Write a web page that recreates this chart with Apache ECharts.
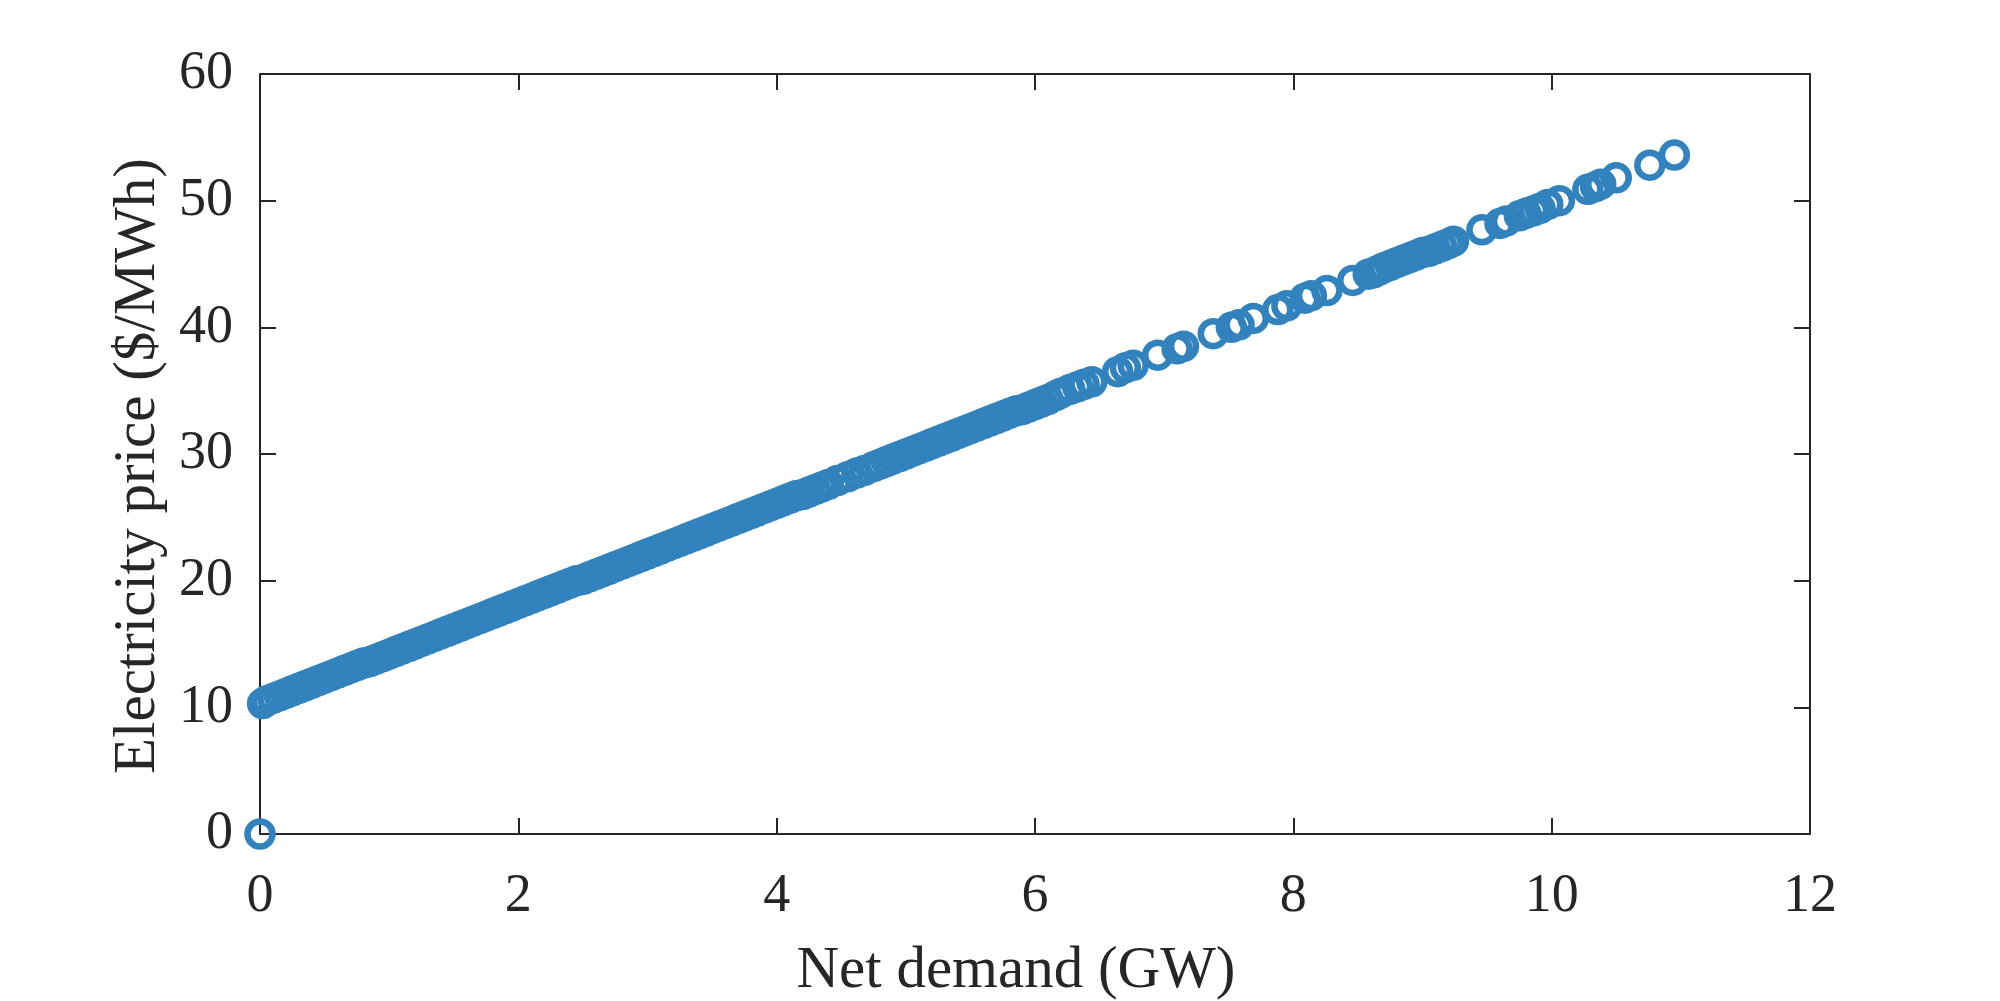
<!DOCTYPE html>
<html>
<head>
<meta charset="utf-8">
<script src="https://cdn.jsdelivr.net/npm/echarts@6/dist/echarts.min.js"></script>
<style>
  html, body { margin: 0; padding: 0; background: #fff; }
  #chart { width: 2000px; height: 1001px; }
</style>
</head>
<body>
<div id="chart"></div>
<script>
// net demand (GW)
const demand = [
  0, 0.02, 0.05, 0.10, 0.15, 0.20, 0.25, 0.30, 0.35, 0.40,
  0.45, 0.50, 0.55, 0.60, 0.65, 0.70, 0.75, 0.80, 0.85, 0.90,
  0.95, 1.00, 1.05, 1.10, 1.15, 1.20, 1.25, 1.30, 1.35, 1.40,
  1.45, 1.50, 1.55, 1.60, 1.65, 1.70, 1.75, 1.80, 1.85, 1.90,
  1.95, 2.00, 2.05, 2.10, 2.15, 2.20, 2.25, 2.30, 2.35, 2.40,
  2.45, 2.50, 2.55, 2.60, 2.65, 2.70, 2.75, 2.80, 2.85, 2.90,
  2.95, 3.00, 3.05, 3.10, 3.15, 3.20, 3.25, 3.30, 3.35, 3.40,
  3.45, 3.50, 3.55, 3.60, 3.65, 3.70, 3.75, 3.80, 3.85, 3.90,
  3.95, 4.00, 4.05, 4.10, 4.15, 4.20, 4.25, 4.30, 4.35, 4.40,
  4.47, 4.55, 4.62, 4.68, 4.75, 4.80, 4.85, 4.90, 4.95, 5.00,
  5.05, 5.10, 5.15, 5.20, 5.25, 5.30, 5.35, 5.40, 5.45, 5.50,
  5.55, 5.60, 5.65, 5.70, 5.75, 5.80, 5.85, 5.90, 5.95, 6.00,
  6.05, 6.10, 6.16, 6.20, 6.27, 6.33, 6.38, 6.44, 6.64, 6.70,
  6.76, 6.95, 7.10, 7.15, 7.38, 7.52, 7.58, 7.69, 7.88, 7.95,
  8.09, 8.14, 8.26, 8.46, 8.58, 8.62, 8.66, 8.70, 8.75, 8.80,
  8.85, 8.90, 8.95, 9.00, 9.05, 9.10, 9.15, 9.20, 9.24, 9.46,
  9.60, 9.65, 9.75, 9.80, 9.86, 9.91, 9.97, 10.06, 10.28, 10.34,
  10.38, 10.50, 10.76, 10.95
];

// electricity price ($/MWh), same order
const price = [
  0, 10.3, 10.5, 10.7, 10.9, 11.1, 11.3, 11.5, 11.7, 11.9,
  12.1, 12.3, 12.5, 12.7, 12.9, 13.1, 13.3, 13.5, 13.6, 13.8,
  14.0, 14.2, 14.4, 14.6, 14.8, 15.0, 15.2, 15.4, 15.6, 15.8,
  16.0, 16.2, 16.4, 16.6, 16.8, 17.0, 17.2, 17.4, 17.6, 17.8,
  18.0, 18.2, 18.4, 18.6, 18.8, 19.0, 19.2, 19.4, 19.6, 19.8,
  20.0, 20.1, 20.3, 20.5, 20.7, 20.9, 21.1, 21.3, 21.5, 21.7,
  21.9, 22.1, 22.3, 22.5, 22.7, 22.9, 23.1, 23.3, 23.5, 23.7,
  23.9, 24.1, 24.3, 24.5, 24.7, 24.9, 25.1, 25.3, 25.5, 25.7,
  25.9, 26.1, 26.3, 26.5, 26.7, 26.8, 27.0, 27.2, 27.4, 27.6,
  27.9, 28.2, 28.5, 28.7, 29.0, 29.2, 29.4, 29.6, 29.8, 30.0,
  30.2, 30.4, 30.6, 30.8, 31.0, 31.2, 31.4, 31.6, 31.8, 32.0,
  32.2, 32.4, 32.6, 32.8, 33.0, 33.2, 33.4, 33.5, 33.7, 33.9,
  34.1, 34.3, 34.6, 34.8, 35.1, 35.3, 35.5, 35.7, 36.5, 36.8,
  37.0, 37.8, 38.3, 38.5, 39.5, 40.0, 40.2, 40.7, 41.4, 41.7,
  42.3, 42.5, 42.9, 43.7, 44.2, 44.3, 44.5, 44.7, 44.9, 45.1,
  45.3, 45.5, 45.7, 45.9, 46.0, 46.2, 46.4, 46.6, 46.8, 47.7,
  48.2, 48.4, 48.8, 49.0, 49.2, 49.4, 49.7, 50.0, 50.9, 51.1,
  51.3, 51.8, 52.8, 53.6
];

// axis ranges / ticks
const xTicks = [0, 2, 4, 6, 8, 10, 12];
const yTicks = [0, 10, 20, 30, 40, 50, 60];

const points = demand.map((d, i) => [d, price[i]]);

const ink = '#262626';
const font = '"Liberation Serif", "Times New Roman", serif';

const chart = echarts.init(document.getElementById('chart'));

function valueAxis(ticks, extra) {
  return Object.assign({
    type: 'value',
    min: ticks[0],
    max: ticks[ticks.length - 1],
    interval: ticks[1] - ticks[0],
    splitLine: { show: false },
    axisLine: { show: true, onZero: false, lineStyle: { color: ink, width: 2 } },
    axisTick: { show: true, inside: true, length: 16, lineStyle: { color: ink, width: 2 } },
    axisLabel: { color: ink, fontFamily: font, fontSize: 54 },
    nameTextStyle: { color: ink, fontFamily: font, fontSize: 59 }
  }, extra);
}

chart.setOption({
  animation: false,
  backgroundColor: '#fff',
  grid: {
    left: 260, right: 190, top: 74, bottom: 167,
    containLabel: false,
    outerBoundsMode: 'none'
  },
  xAxis: [
    valueAxis(xTicks, {
      position: 'bottom',
      name: 'Net demand (GW)',
      nameLocation: 'middle',
      nameGap: 108,
      nameTextStyle: { color: ink, fontFamily: font, fontSize: 59, padding: [0, 38, 0, 0] },
      axisLabel: { color: ink, fontFamily: font, fontSize: 54, margin: 36 }
    }),
    valueAxis(xTicks, { position: 'top', axisLabel: { show: false } })
  ],
  yAxis: [
    valueAxis(yTicks, {
      position: 'left',
      name: 'Electricity price ($/MWh)',
      nameLocation: 'middle',
      nameGap: 88,
      nameTextStyle: { color: ink, fontFamily: font, fontSize: 59, padding: [0, 24, 0, 0] },
      axisLabel: { color: ink, fontFamily: font, fontSize: 54, margin: 27 }
    }),
    valueAxis(yTicks, { position: 'right', axisLabel: { show: false } })
  ],
  series: [{
    type: 'scatter',
    data: points,
    symbol: 'circle',
    symbolSize: 25,
    clip: false,
    itemStyle: {
      color: 'rgba(0,0,0,0)',
      borderColor: '#3182bd',
      borderWidth: 6.5,
      opacity: 1
    },
    z: 3
  }]
});

window.onresize = function () {
  chart.resize();
};
</script>
</body>
</html>
